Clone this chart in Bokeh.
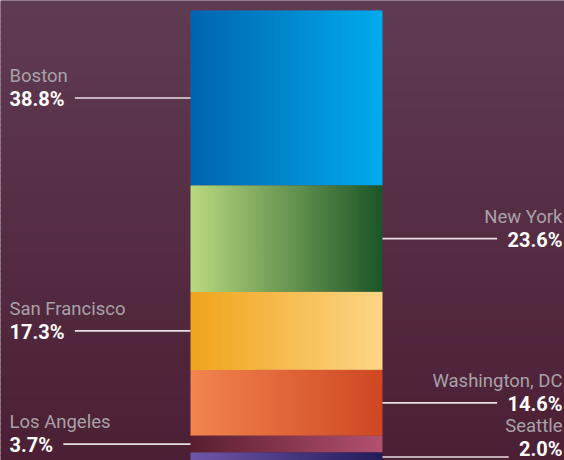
import numpy as np
from bokeh.plotting import figure
from bokeh.models import Range1d
from bokeh.core.properties import value
from bokeh.embed import file_html
from bokeh.resources import INLINE

# ---- data ----
cities = ["Boston", "New York", "San Francisco", "Washington, DC", "Los Angeles", "Seattle"]
shares = [38.8, 23.6, 17.3, 14.6, 3.7, 2.0]
label_sides = ["left", "right", "left", "right", "left", "right"]
grad_left = ["#0064b0", "#b8d87e", "#efa41c", "#f2844f", "#5a1e30", "#6f56a8"]
grad_right = ["#00abec", "#1d5628", "#fdd585", "#cf4724", "#b2506f", "#241c5a"]

W, H = 564, 460
FONT = "Roboto"

p = figure(width=W, height=H, output_backend="svg", toolbar_location=None,
           x_range=Range1d(0, W), y_range=Range1d(0.22, 102.2),
           min_border=0, min_border_left=0, min_border_right=0,
           min_border_top=0, min_border_bottom=0)
p.axis.visible = False
p.grid.visible = False
p.outline_line_color = None
p.background_fill_color = "#55293f"
p.border_fill_color = "#55293f"


def hex2rgb(h):
    h = h.lstrip("#")
    return np.array([int(h[i:i + 2], 16) for i in (0, 2, 4)], dtype=float)


def rgb2hex(c):
    return "#%02x%02x%02x" % tuple(int(round(v)) for v in c)


# background vertical gradient
bg_top, bg_bot = hex2rgb("#5f3b52"), hex2rgb("#4c1f34")
n_bg = 80
ys = np.linspace(102.2, 0.22, n_bg + 1)
bcols = [rgb2hex(bg_top + (bg_bot - bg_top) * (i / (n_bg - 1))) for i in range(n_bg)]
p.quad(left=0, right=W, top=ys[:-1], bottom=ys[1:] - 0.3, fill_color=bcols, line_color=None)

# stacked bar with horizontal gradients
bar_x0, bar_x1 = 190, 382
tops = 100 - np.concatenate([[0], np.cumsum(shares)[:-1]])
bottoms = tops - np.array(shares)
n_sl = 64
edges = np.linspace(bar_x0, bar_x1, n_sl + 1)
for top, bot, cl, cr in zip(tops, bottoms, grad_left, grad_right):
    a, b = hex2rgb(cl), hex2rgb(cr)
    cols = [rgb2hex(a + (b - a) * (i / (n_sl - 1))) for i in range(n_sl)]
    rights = np.minimum(edges[1:] + 0.8, bar_x1)
    p.quad(left=edges[:-1], right=rights, top=top, bottom=bot, fill_color=cols, line_color=None)

PCT_SIZE = 20


# approximate rendered width of a percentage label
def text_w(s, size=PCT_SIZE):
    w = 0
    for ch in s:
        if ch.isdigit():
            w += 0.58 * size
        elif ch == ".":
            w += 0.27 * size
        elif ch == "%":
            w += 0.76 * size
        else:
            w += 0.55 * size
    return w


left_x, right_x = 9, 562
for city, share, side, top, bot in zip(cities, shares, label_sides, tops, bottoms):
    yc = (top + bot) / 2
    pct = f"{share:.1f}%"
    tw = text_w(pct)
    # keep the lowest label inside the picture
    lift = -9 if bot <= 0.01 else 0
    if side == "left":
        tx, align = left_x, "left"
        lx0, lx1 = left_x + tw + 10, bar_x0
    else:
        tx, align = right_x, "right"
        lx0, lx1 = bar_x1, right_x - tw - 10
    p.segment(x0=[lx0], y0=[yc], x1=[lx1], y1=[yc], line_color="#e8dfe6", line_width=1.6)
    p.text(x=[tx], y=[yc], text=[pct], text_align=align, text_baseline="middle",
           text_font=value(FONT), text_font_style="bold", text_font_size=f"{PCT_SIZE}px",
           text_color="#ffffff", y_offset=1 + lift)
    p.text(x=[tx], y=[yc], text=[city], text_align=align, text_baseline="middle",
           text_font=value(FONT), text_font_size="18.5px", text_color="#a8a1a9",
           y_offset=-22 + lift)

open("out.html", "w").write(file_html(p, INLINE))
